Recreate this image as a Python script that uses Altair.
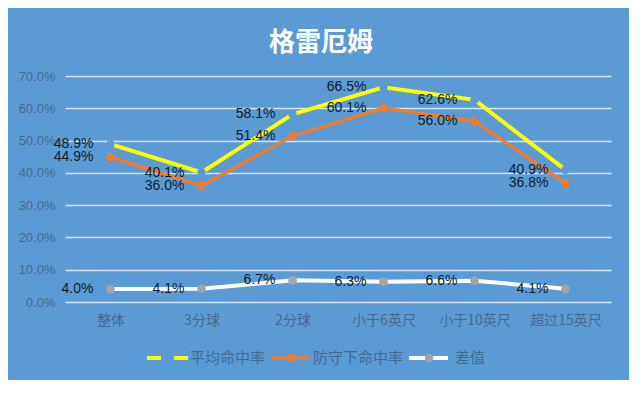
import altair as alt
import pandas as pd

# ---------------- data ----------------
categories = ["整体", "3分球", "2分球", "小于6英尺", "小于10英尺", "超过15英尺"]
avg_pct = [48.9, 40.1, 58.1, 66.5, 62.6, 40.9]      # 平均命中率
def_pct = [44.9, 36.0, 51.4, 60.1, 56.0, 36.8]      # 防守下命中率
diff_pct = [4.0, 4.1, 6.7, 6.3, 6.6, 4.1]           # 差值
series_names = ["平均命中率", "防守下命中率", "差值"]
y_ticks = [0.0, 0.1, 0.2, 0.3, 0.4, 0.5, 0.6, 0.7]
title_text = "格雷厄姆"

# ---------------- style ----------------
BG = "#5B9BD5"
YELLOW = "#FFFF00"
ORANGE = "#ED7D31"
WHITE = "#FFFFFF"
GRAY = "#A5A5A5"
GRID = "#D6E3F1"
AXIS_TXT = "#46698F"
LABEL_TXT = "#0E1B2C"
CJK = "Noto Sans CJK SC"
NUM = "Liberation Sans"

W, H = 546, 226


def frame(vals):
    return pd.DataFrame({"cat": categories, "v": [v / 100 for v in vals]})


x_enc = alt.X(
    "cat:N",
    sort=categories,
    scale=alt.Scale(type="point", padding=0.5),
    axis=alt.Axis(
        title=None, labelAngle=0, ticks=False, domain=False, grid=False,
        labelPadding=11, labelFont=CJK, labelFontSize=14, labelColor=AXIS_TXT,
    ),
)
y_enc = alt.Y(
    "v:Q",
    scale=alt.Scale(domain=[0, 0.7], nice=False, zero=True),
    axis=alt.Axis(
        title=None, format=".1%", values=y_ticks, ticks=False, domain=False,
        grid=True, gridColor=GRID, gridWidth=1.6, labelPadding=10,
        labelFont=NUM, labelFontSize=13, labelColor=AXIS_TXT,
    ),
)

avg_df = frame(avg_pct)
def_df = frame(def_pct)
diff_df = frame(diff_pct)

avg_line = alt.Chart(avg_df).mark_line(color=YELLOW, strokeWidth=4).encode(x=x_enc, y=y_enc)
# gaps of the dashed yellow line at its vertices
avg_gaps = alt.Chart(avg_df).mark_point(filled=True, color=BG, opacity=1, size=70).encode(x=x_enc, y=y_enc)

def_line = alt.Chart(def_df).mark_line(color=ORANGE, strokeWidth=3.5).encode(x=x_enc, y=y_enc)
def_pts = alt.Chart(def_df).mark_point(filled=True, color=ORANGE, opacity=1, size=75).encode(x=x_enc, y=y_enc)

diff_line = alt.Chart(diff_df).mark_line(color=WHITE, strokeWidth=4).encode(x=x_enc, y=y_enc)
diff_pts = alt.Chart(diff_df).mark_point(filled=True, color=GRAY, opacity=1, size=75).encode(x=x_enc, y=y_enc)


def labels(df):
    return alt.Chart(df).mark_text(
        align="right", baseline="middle", dx=-17, font=NUM, fontSize=14, color=LABEL_TXT
    ).encode(x=x_enc, y=y_enc, text=alt.Text("v:Q", format=".1%"))


# ---------------- manual legend ----------------
one = pd.DataFrame({"k": [0]})
LY = 282
leg = [
    alt.Chart(one).mark_rule(color=YELLOW, strokeWidth=4, strokeDash=[14, 13]).encode(
        x=alt.value(82), x2=alt.value(123), y=alt.value(LY)),
    alt.Chart(one).mark_text(text=series_names[0], align="left", baseline="middle",
                             font=CJK, fontSize=15, color=AXIS_TXT).encode(
        x=alt.value(125), y=alt.value(LY)),
    alt.Chart(one).mark_rule(color=ORANGE, strokeWidth=3.5).encode(
        x=alt.value(207), x2=alt.value(245), y=alt.value(LY)),
    alt.Chart(one).mark_point(filled=True, color=ORANGE, opacity=1, size=75).encode(
        x=alt.value(226), y=alt.value(LY)),
    alt.Chart(one).mark_text(text=series_names[1], align="left", baseline="middle",
                             font=CJK, fontSize=15, color=AXIS_TXT).encode(
        x=alt.value(248), y=alt.value(LY)),
    alt.Chart(one).mark_rule(color=WHITE, strokeWidth=4).encode(
        x=alt.value(344), x2=alt.value(383), y=alt.value(LY)),
    alt.Chart(one).mark_point(filled=True, color=GRAY, opacity=1, size=75).encode(
        x=alt.value(364), y=alt.value(LY)),
    alt.Chart(one).mark_text(text=series_names[2], align="left", baseline="middle",
                             font=CJK, fontSize=15, color=AXIS_TXT).encode(
        x=alt.value(390), y=alt.value(LY)),
]

chart = alt.layer(
    avg_line, avg_gaps, def_line, def_pts, diff_line, diff_pts,
    labels(avg_df), labels(def_df), labels(diff_df), *leg,
).properties(
    width=W,
    height=H,
    autosize=alt.AutoSizeParams(type="none"),
    padding={"left": 57, "top": 68, "right": 18, "bottom": 78},
    background=BG,
    title=alt.TitleParams(
        title_text, font=CJK, fontSize=26, fontWeight="bold", color=WHITE,
        anchor="middle", offset=14, dx=-17,
    ),
).configure_view(stroke=None)

chart.save("out.html", embed_options={"renderer": "svg", "actions": False})
